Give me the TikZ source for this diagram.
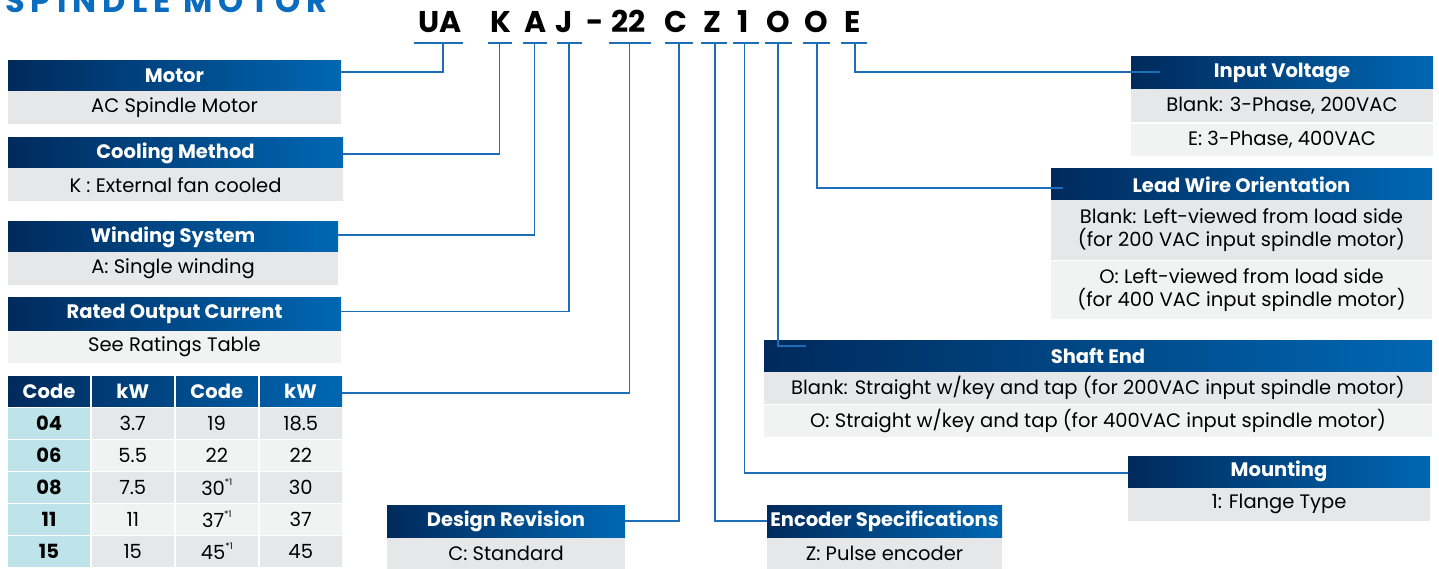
\documentclass[tikz,border=0pt]{standalone}
\usepackage{fontspec}
\setmainfont{Poppins}
\usetikzlibrary{calc}
\definecolor{hdrL}{HTML}{002A5C}
\definecolor{hdrR}{HTML}{0067B3}
\definecolor{lineblue}{HTML}{1B6EB7}
\definecolor{grayA}{HTML}{E6E7E8}
\definecolor{grayB}{HTML}{F1F2F2}
\definecolor{tealc}{HTML}{BEE3E8}
\definecolor{titleblue}{HTML}{0A6CBF}
\newcommand{\bfnt}{\fontsize{19.5}{23}\selectfont}
\newcommand{\hfnt}{\fontsize{19.5}{23}\selectfont\bfseries}
\newcommand{\cfnt}{\fontsize{30}{34}\selectfont\bfseries}
\newcommand{\supone}{\raisebox{0.5em}{\fontsize{9}{9}\selectfont *1}}
\begin{document}
\begin{tikzpicture}[x=1pt,y=-1pt,
  hdr/.style={rectangle,inner sep=0,outer sep=0,left color=hdrL,right color=hdrR,text=white,font=\hfnt,anchor=north west},
  bodyA/.style={rectangle,inner sep=0,outer sep=0,fill=grayA,text=black,font=\bfnt,anchor=north west,align=center},
  bodyB/.style={bodyA,fill=grayB},
  codech/.style={anchor=base,font=\cfnt,text=black,inner sep=0},
  uline/.style={draw=lineblue,line width=1.6pt},
  conn/.style={draw=lineblue,line width=1.7pt},
  tcell/.style={rectangle,inner sep=0,outer sep=0,anchor=north west,font=\bfnt,minimum height=30.5,text=black},
  thead/.style={anchor=center,font=\hfnt,text=white,inner sep=0}
]
\useasboundingbox (0,0) rectangle (1439,569);
\fill[white] (0,0) rectangle (1439,569);

% title (cut by the top edge)
\node[anchor=base west,inner sep=0,text=titleblue,font={\fontsize{32}{32}\selectfont\bfseries\addfontfeature{LetterSpace=19}}] (title) at (5,13) {SPINDLE MOTOR};

% code letters
\node[codech] (cUA) at (440,33) {UA};
\node[codech] (cK) at (501,33) {K};
\node[codech] (cA) at (535.5,33) {A};
\node[codech] (cJ) at (564.5,33) {J};
\node[codech] (cDash) at (595,33) {-};
\node[codech] (c22) at (628.5,33) {22};
\node[codech] (cC) at (676,33) {C};
\node[codech] (cZ) at (712,33) {Z};
\node[codech] (c1) at (743.5,33) {1};
\node[codech] (cO1) at (778.5,33) {O};
\node[codech] (cO2) at (816.5,33) {O};
\node[codech] (cE) at (852.5,33) {E};

% underlines
\draw[uline] (414,43) -- (463,43);
\draw[uline] (488,43) -- (512,43);
\draw[uline] (523,43) -- (547,43);
\draw[uline] (557,43) -- (582,43);
\draw[uline] (609,43) -- (651,43);
\draw[uline] (665,43) -- (693,43);
\draw[uline] (701,43) -- (727,43);
\draw[uline] (733,43) -- (759,43);
\draw[uline] (765,43) -- (792,43);
\draw[uline] (803,43) -- (830,43);
\draw[uline] (841,43) -- (867,43);
\coordinate (uUA) at (443,43);
\coordinate (uK) at (499.5,43);
\coordinate (uA) at (534.5,43);
\coordinate (uJ) at (569,43);
\coordinate (u22) at (629.5,43);
\coordinate (uC) at (679,43);
\coordinate (uZ) at (715,43);
\coordinate (u1) at (744.5,43);
\coordinate (uO1) at (778,43);
\coordinate (uO2) at (817,43);
\coordinate (uE) at (855,43);

% left column
\node[hdr,minimum width=333,minimum height=30] (hMotor) at (8,61) {Motor};
\node[bodyA,minimum width=333,minimum height=33] (bMotor) at (8,91.5) {AC Spindle Motor};
\node[hdr,minimum width=335,minimum height=30] (hCool) at (8,138) {Cooling Method};
\node[bodyA,minimum width=335,minimum height=33] (bCool) at (8,168.5) {K : External fan cooled};
\node[hdr,minimum width=330,minimum height=30] (hWind) at (8,222) {Winding System};
\node[bodyA,minimum width=330,minimum height=32] (bWind) at (8,252.5) {A: Single winding};
\node[hdr,minimum width=333,minimum height=33] (hRated) at (8,297) {Rated Output Current};
\node[bodyB,minimum width=333,minimum height=32] (bRated) at (8,330.5) {See Ratings Table};

% table
\node[hdr,minimum width=334,minimum height=30.5] (tHead) at (8,376) {};
\draw[white,line width=1.5pt] (90.75,376) -- (90.75,406.5) (174.75,376) -- (174.75,406.5) (258.75,376) -- (258.75,406.5);
\node[thead] (th1) at (49,391.5) {Code};
\node[thead] (th2) at (132.75,391.5) {kW};
\node[thead] (th3) at (216.75,391.5) {Code};
\node[thead] (th4) at (300.5,391.5) {kW};
\foreach \r/\ca/\cb/\kwb/\col [count=\i from 0] in {
  04/3.7/19/18.5/grayA,
  06/5.5/22/22/grayB,
  08/7.5/30\supone/30/grayA,
  11/11/37\supone/37/grayB,
  15/15/45\supone/45/grayA}{
  \pgfmathsetmacro{\yy}{408+\i*32}
  \node[tcell,fill=tealc,minimum width=82,font=\hfnt] (tA\i) at (8,\yy) {\r};
  \node[tcell,fill=\col,minimum width=82.5] (tB\i) at (91.5,\yy) {\ca};
  \node[tcell,fill=\col,minimum width=82.5] (tC\i) at (175.5,\yy) {\cb};
  \node[tcell,fill=\col,minimum width=82.5] (tD\i) at (259.5,\yy) {\kwb};
}

% right side boxes
\node[hdr,minimum width=302,minimum height=32] (hVolt) at (1131,57) {Input Voltage};
\node[bodyA,minimum width=302,minimum height=33] (bVolt1) at (1131,89.5) {Blank: 3-Phase, 200VAC};
\node[bodyB,minimum width=302,minimum height=32] (bVolt2) at (1131,124) {E: 3-Phase, 400VAC};

\node[hdr,minimum width=381,minimum height=31] (hLead) at (1051,169) {Lead Wire Orientation};
\node[bodyA,minimum width=381,minimum height=59] (bLead1) at (1051,200.5) {Blank: Left-viewed from load side\\(for 200 VAC input spindle motor)};
\node[bodyB,minimum width=381,minimum height=58] (bLead2) at (1051,261) {O: Left-viewed from load side\\(for 400 VAC input spindle motor)};

\node[hdr,minimum width=668,minimum height=31] (hShaft) at (764,340) {Shaft End};
\node[bodyA,minimum width=668,minimum height=32] (bShaft1) at (764,371.5) {Blank: Straight w/key and tap (for 200VAC input spindle motor)};
\node[bodyB,minimum width=668,minimum height=32] (bShaft2) at (764,405) {O: Straight w/key and tap (for 400VAC input spindle motor)};

\node[hdr,minimum width=302,minimum height=31] (hMount) at (1128,456) {Mounting};
\node[bodyA,minimum width=302,minimum height=33] (bMount) at (1128,487.5) {1: Flange Type};

\node[hdr,minimum width=238,minimum height=32] (hDesign) at (387,505) {Design Revision};
\node[bodyA,minimum width=238,minimum height=32] (bDesign) at (387,537.5) {C: Standard};

\node[hdr,minimum width=235,minimum height=32] (hEnc) at (767,505) {Encoder Specifications};
\node[bodyA,minimum width=235,minimum height=32] (bEnc) at (767,537.5) {Z: Pulse encoder};

% connector end points inside headers
\coordinate (eShaft) at (806,346);
\coordinate (eLead) at (1063,188);
\coordinate (eVolt) at (1160,72);

% connectors
\draw[conn] (uUA) |- ([yshift=4pt]hMotor.east);
\draw[conn] (uK) |- ([yshift=-1pt]hCool.east);
\draw[conn] (uA) |- ([yshift=2pt]hWind.east);
\draw[conn] (uJ) |- ([yshift=2pt]hRated.east);
\draw[conn] (u22) |- ([yshift=-2pt]tHead.east);
\draw[conn] (uC) |- (hDesign.east);
\draw[conn] (uZ) |- (hEnc.west);
\draw[conn] (u1) |- ([yshift=-1.5pt]hMount.west);
\draw[conn] (uO1) |- (eShaft);
\draw[conn] (uO2) |- (eLead);
\draw[conn] (uE) |- (eVolt);
\end{tikzpicture}
\end{document}
